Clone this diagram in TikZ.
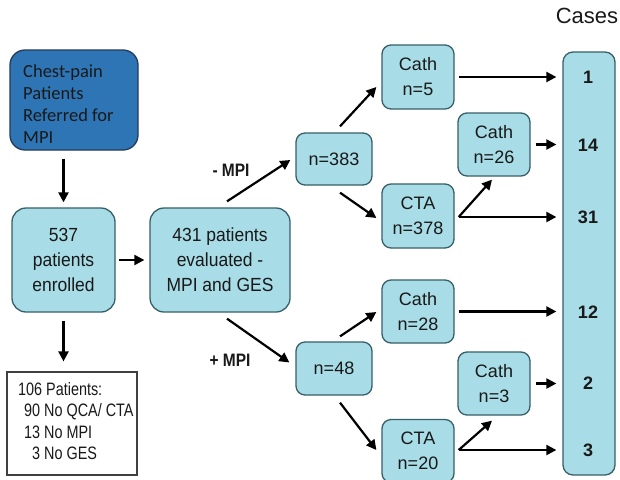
\documentclass[tikz,border=0pt]{standalone}
\usepackage{fontspec}
\setmainfont{Liberation Sans}
\newfontfamily\calfont{Carlito}
\newfontfamily\narrowfont[FakeStretch=0.92]{Liberation Sans}
\newfontfamily\narrowerfont[FakeStretch=0.86]{Liberation Sans}
\newfontfamily\condfont[FakeStretch=0.8]{Liberation Sans}
\usetikzlibrary{arrows.meta,calc}
\definecolor{boxfill}{RGB}{168,220,230}
\definecolor{boxline}{RGB}{55,95,105}
\definecolor{bluefill}{RGB}{46,117,182}
\definecolor{blueline}{RGB}{35,60,90}
\definecolor{txt}{RGB}{25,25,25}
\begin{document}
\begin{tikzpicture}[x=1pt,y=-1pt,
  lbox/.style={draw=boxline,line width=1.3pt,fill=boxfill,rounded corners=9pt,
    align=center,inner sep=0pt,text=txt,font=\fontsize{18}{25}\selectfont},
  bigbox/.style={lbox,rounded corners=14pt,font=\narrowfont\fontsize{19}{25}\selectfont},
  arr/.style={line width=2.2pt,draw=black,-{Triangle[length=10pt,width=10pt]}},
  num/.style={font=\bfseries\fontsize{18}{20}\selectfont,text=txt},
  mpi/.style={font=\narrowerfont\bfseries\fontsize{18}{20}\selectfont,text=txt}]
\useasboundingbox[fill=white] (0,0) rectangle (620,479);
% left column
\node[draw=blueline,line width=1.3pt,fill=bluefill,rounded corners=15pt,
  minimum width=128pt,minimum height=100pt,inner sep=0pt] (blue) at (74,100) {};
\node[anchor=west,align=left,text=txt,font=\calfont\fontsize{18.5}{22}\selectfont,inner sep=0pt]
  (bluetxt) at (23,104) {Chest-pain\\Patients\\Referred for\\MPI};
\node[bigbox,minimum width=103pt,minimum height=104pt] (enr) at (63.5,260) {537\\patients\\enrolled};
\node[bigbox,minimum width=140pt,minimum height=104pt] (eval) at (220,260) {431 patients\\evaluated -\\MPI and GES};
\node[draw=black!75,line width=1.2pt,minimum width=130pt,minimum height=103pt,inner sep=0pt] (excl) at (72,423.5) {};
\node[anchor=west,align=left,text=txt,font=\condfont\fontsize{18}{21.5}\selectfont,inner sep=0pt]
  (excltxt) at (18,421) {106 Patients:\\\hspace*{6pt}90 No QCA/ CTA\\\hspace*{6pt}13 No MPI\\\hspace*{14pt}3 No GES};
% middle
\node[lbox,minimum width=76pt,minimum height=52pt] (n383) at (334,159) {n=383};
\node[lbox,minimum width=76pt,minimum height=53pt] (n48) at (334,368.5) {n=48};
\node[lbox,minimum width=72pt,minimum height=64pt] (c5) at (418,77) {Cath\\n=5};
\node[lbox,minimum width=72pt,minimum height=64pt] (cta378) at (418,216) {CTA\\n=378};
\node[lbox,minimum width=72pt,minimum height=63pt] (c26) at (494,144.5) {Cath\\n=26};
\node[lbox,minimum width=72pt,minimum height=63pt] (c28) at (418,311.5) {Cath\\n=28};
\node[lbox,minimum width=72pt,minimum height=63pt] (c3) at (494,383.5) {Cath\\n=3};
\node[lbox,minimum width=72pt,minimum height=63pt] (cta20) at (418,451) {CTA\\n=20};
% cases column
\node[lbox,rounded corners=10pt,minimum width=52pt,minimum height=423pt] (col) at (589,263.5) {};
\node[font=\fontsize{22}{24}\selectfont,text=txt] (cases) at (587,16) {Cases};
\node[num] (k1) at (588,77) {1};
\node[num] (k14) at (588,145) {14};
\node[num] (k31) at (588,217) {31};
\node[num] (k12) at (588,312) {12};
\node[num] (k2) at (588,383) {2};
\node[num] (k3) at (588,450) {3};
\node[mpi] (lminus) at (231,170) {- MPI};
\node[mpi] (lplus) at (230,360) {+ MPI};
% arrows
\draw[arr] ([yshift=-8pt]blue.south -| enr.north) -- ([yshift=5pt]enr.north);
\draw[arr] ([xshift=3pt]enr.east) -- ([xshift=-5pt]eval.west |- enr.east);
\draw[arr] ([yshift=-8pt]enr.south) -- ([yshift=10pt]excl.north -| enr.south);
\draw[arr] ($(eval.north)+(7,-6)$) -- ($(n383.west)+(-5,1)$);
\draw[arr] ($(eval.south)+(7,6)$) -- ($(n48.west)+(-6,-6)$);
\draw[arr] ($(n383.north)+(6,-6)$) -- ($(c5.west)+(-5,10)$);
\draw[arr] ($(n383.south)+(6,7)$) -- ($(cta378.west)+(-5,2)$);
\draw[arr] ($(n48.north)+(6,-5)$) -- ($(c28.west)+(-5,0.5)$);
\draw[arr] ($(n48.south)+(6,7)$) -- ($(cta20.west)+(-5,-1)$);
\draw[arr] ([xshift=4pt]c5.east) -- ([xshift=-6pt]col.west |- c5.east);
\draw[arr] ([xshift=5pt]c26.east) -- ([xshift=-6pt]col.west |- c26.east);
\draw[arr] ($(cta378.east)+(4,1)$) -- ($(col.west |- cta378.east)+(-6,1)$);
\draw[arr] ($(cta378.east)+(4,1)$) -- ($(c26.south)+(-2,3)$);
\draw[arr] ([xshift=4pt]c28.east) -- ([xshift=-6pt]col.west |- c28.east);
\draw[arr] ([xshift=5pt]c3.east) -- ([xshift=-6pt]col.west |- c3.east);
\draw[arr] ($(cta20.east)+(4,-1)$) -- ($(col.west |- cta20.east)+(-6,-1)$);
\draw[arr] ($(cta20.east)+(4,-1)$) -- ($(c3.south)+(-2,5)$);
\end{tikzpicture}
\end{document}
